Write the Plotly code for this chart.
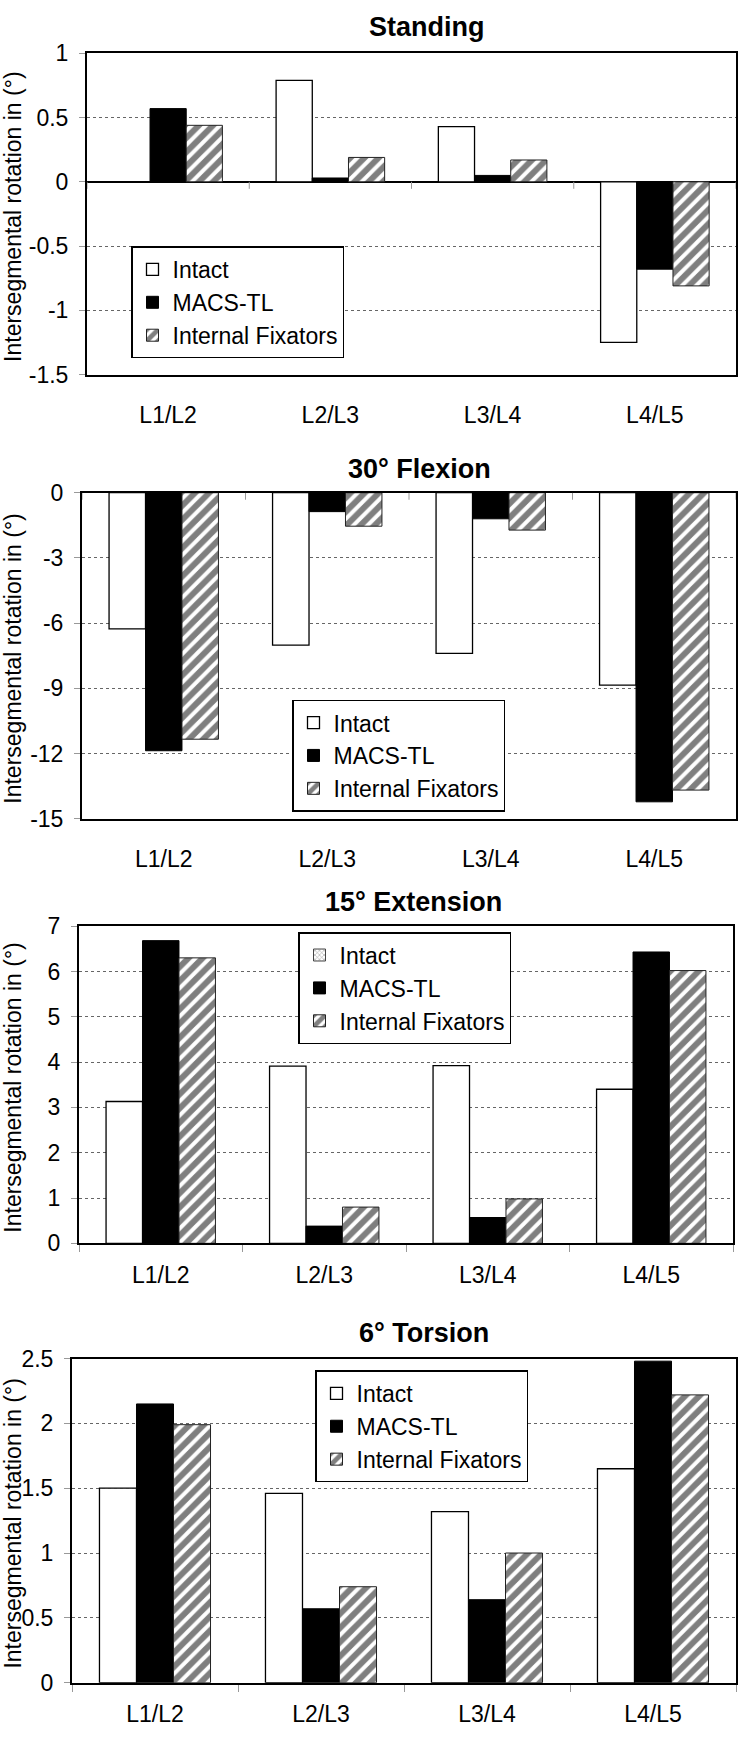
import plotly.graph_objects as go

W, H = 738, 1739

categories = ["L1/L2", "L2/L3", "L3/L4", "L4/L5"]
series_names = ["Intact", "MACS-TL", "Internal Fixators"]

panel_titles = ["Standing", "30° Flexion", "15° Extension", "6° Torsion"]
y_title = "Intersegmental rotation in (°)"

standing_intact = [0.0, 0.79, 0.43, -1.25]
standing_macs = [0.57, 0.03, 0.05, -0.68]
standing_fix = [0.44, 0.19, 0.17, -0.81]

flexion_intact = [-6.26, -7.01, -7.39, -8.85]
flexion_macs = [-11.87, -0.87, -1.20, -14.22]
flexion_fix = [-11.34, -1.54, -1.72, -13.68]

extension_intact = [3.13, 3.91, 3.92, 3.40]
extension_macs = [6.68, 0.38, 0.57, 6.43]
extension_fix = [6.30, 0.80, 0.98, 6.02]

torsion_intact = [1.50, 1.46, 1.32, 1.65]
torsion_macs = [2.15, 0.57, 0.64, 2.48]
torsion_fix = [1.99, 0.74, 1.00, 2.22]

standing_ticks = [-1.5, -1, -0.5, 0, 0.5, 1]
flexion_ticks = [-15, -12, -9, -6, -3, 0]
extension_ticks = [0, 1, 2, 3, 4, 5, 6, 7]
torsion_ticks = [0, 0.5, 1, 1.5, 2, 2.5]

# ---- layout (pixels) ----
panels = [
    dict(data=(standing_intact, standing_macs, standing_fix), ticks=standing_ticks,
         box=(87, 736, 41, 367), title=(427, 14), legend=(131, 237), intact_legend_pattern=False),
    dict(data=(flexion_intact, flexion_macs, flexion_fix), ticks=flexion_ticks,
         box=(82, 736, 487, 818), title=(419, 463), legend=(292, 697), intact_legend_pattern=False),
    dict(data=(extension_intact, extension_macs, extension_fix), ticks=extension_ticks,
         box=(79, 733, 927, 1249), title=(413, 902), legend=(298, 933), intact_legend_pattern=True),
    dict(data=(torsion_intact, torsion_macs, torsion_fix), ticks=torsion_ticks,
         box=(72, 736, 1366, 1695), title=(424, 1340), legend=(315, 1378), intact_legend_pattern=False),
]

FONT = "Liberation Sans, Arial, sans-serif"
BW = 0.223
offsets = [-1.5 * BW, -0.5 * BW, 0.5 * BW]

fig = go.Figure()
annotations = []
shapes = []


def px_x(x):
    return x / W


def px_y(y):
    return 1 - y / H


for i, p in enumerate(panels):
    n = i + 1
    xa = "x" if n == 1 else f"x{n}"
    ya = "y" if n == 1 else f"y{n}"
    leg = "legend" if n == 1 else f"legend{n}"
    intact, macs, fix = p["data"]

    styles = [
        dict(color="white", line=dict(color="black", width=1.3)),
        dict(color="black", line=dict(color="black", width=1)),
        dict(color="white", line=dict(color="#222222", width=1),
             pattern=dict(shape="/", fgcolor="black", bgcolor="white", size=10, solidity=0.6)),
    ]
    for k, (vals, name) in enumerate(zip((intact, macs, fix), series_names)):
        show = not (k == 0 and p["intact_legend_pattern"])
        fig.add_trace(go.Bar(
            x=categories, y=vals, name=name, xaxis=xa, yaxis=ya,
            width=BW, offset=offsets[k], marker=styles[k],
            legend=leg, legendgroup=f"{n}-{k}", showlegend=show,
            hoverinfo="x+y+name",
        ))
        if not show:
            # legend entry drawn with a checkered swatch, as in the source figure
            fig.add_trace(go.Bar(
                x=categories, y=[None] * len(categories), name=name, xaxis=xa, yaxis=ya,
                width=BW, offset=offsets[k],
                marker=dict(color="white", line=dict(color="#444", width=1),
                            pattern=dict(shape="x", fgcolor="#333", bgcolor="white", size=4, solidity=0.3)),
                legend=leg, legendgroup=f"{n}-{k}", showlegend=True, hoverinfo="skip",
            ))

    x0, x1, y0, y1 = p["box"]
    tks = p["ticks"]
    zero_inside = min(tks) < 0 < max(tks)
    bottom_is_zero = min(tks) == 0

    xaxis = dict(
        domain=[px_x(x0), px_x(x1)], anchor=ya,
        type="category", range=[-0.5, 3.5],
        showline=True, mirror=True, linecolor="black", linewidth=2,
        tickfont=dict(family=FONT, size=23, color="black"),
        showgrid=False, zeroline=False, fixedrange=True,
    )
    if bottom_is_zero:
        xaxis.update(ticks="outside", tickson="boundaries", ticklen=7, tickcolor="#999", tickwidth=1,
                     ticklabelstandoff=10)
    else:
        xaxis.update(ticks="", ticklabelstandoff=19)

    yaxis = dict(
        domain=[px_y(y1), px_y(y0)], anchor=xa,
        range=[min(tks), max(tks)], tickvals=tks,
        ticktext=[f"{t:g}" for t in tks],
        showline=True, mirror=True, linecolor="black", linewidth=2,
        ticks="outside", ticklen=6, tickcolor="#999", tickwidth=1,
        ticklabelstandoff=6,
        tickfont=dict(family=FONT, size=23, color="black"),
        showgrid=True, gridcolor="#666666", griddash="dot", gridwidth=1,
        zeroline=zero_inside, zerolinecolor="black", zerolinewidth=1.5,
        fixedrange=True,
    )
    fig.layout[("xaxis" if n == 1 else f"xaxis{n}")] = xaxis
    fig.layout[("yaxis" if n == 1 else f"yaxis{n}")] = yaxis

    # category-boundary tick marks on the zero line (category axis crosses at 0)
    if not bottom_is_zero:
        for b in [-0.5, 0.5, 1.5, 2.5, 3.5]:
            shapes.append(dict(
                type="line", xref=xa, yref=ya, x0=b, x1=b,
                ysizemode="pixel", yanchor=0, y0=0, y1=-7,
                line=dict(color="#999", width=1), layer="above",
            ))

    lx, ly = p["legend"]
    fig.layout[leg] = dict(
        x=px_x(lx), y=px_y(ly), xanchor="left", yanchor="top",
        xref="paper", yref="paper",
        bgcolor="white", bordercolor="black", borderwidth=1.5,
        font=dict(family=FONT, size=23, color="black"),
        tracegroupgap=5, itemwidth=30, traceorder="normal",
    )

    tx, ty = p["title"]
    annotations.append(dict(
        text=f"<b>{panel_titles[i]}</b>", xref="paper", yref="paper",
        x=px_x(tx), y=px_y(ty), xanchor="center", yanchor="middle",
        showarrow=False, font=dict(family=FONT, size=27, color="black"),
    ))
    annotations.append(dict(
        text=y_title, xref="paper", yref="paper", textangle=-90,
        x=px_x(13), y=px_y((y0 + y1) / 2 + 3), xanchor="center", yanchor="middle",
        showarrow=False, font=dict(family=FONT, size=23, color="black"),
    ))

fig.update_layout(
    width=W, height=H,
    margin=dict(l=0, r=0, t=0, b=0),
    paper_bgcolor="white", plot_bgcolor="white",
    barmode="overlay",
    annotations=annotations, shapes=shapes,
    font=dict(family=FONT, color="black"),
)

fig.write_html(
    "out.html",
    config={"displayModeBar": False},
    post_script="document.body.style.margin='0';document.body.style.padding='0';",
)
